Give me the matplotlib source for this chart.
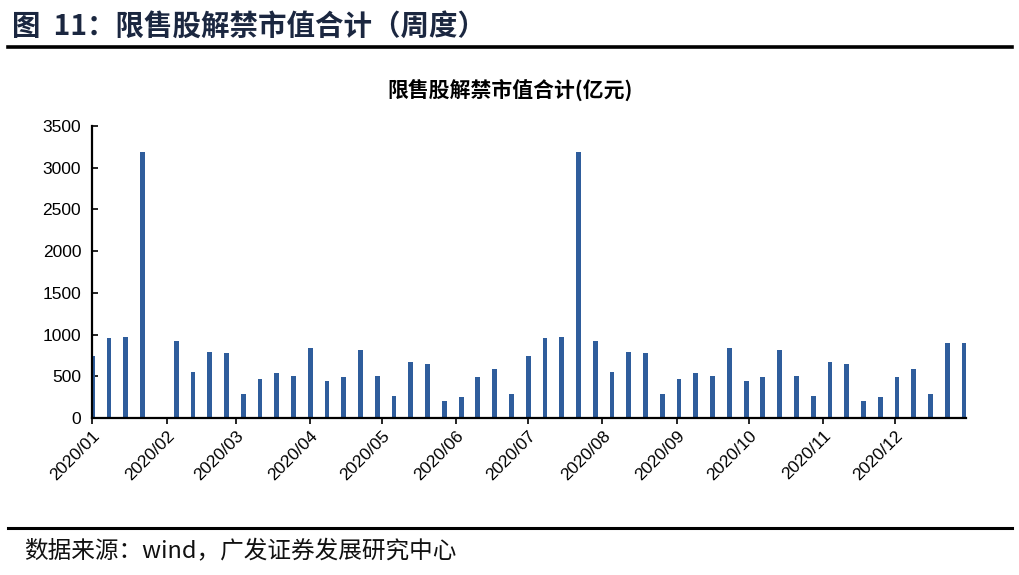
import numpy as np
import pandas as pd
import matplotlib
matplotlib.use("Agg")
import matplotlib.pyplot as plt
from matplotlib.lines import Line2D

plt.rcParams['font.family'] = ['Liberation Sans', 'Noto Sans CJK SC', 'DejaVu Sans']

# 周度数据 (亿元)
week_start = "2020-01-01"
n_weeks = 53
unlock_values = [
    740, 956, 976, 3188, 0, 928, 552, 796, 776, 288,
    464, 540, 504, 836, 444, 492, 816, 504, 260, 672,
    652, 200, 252, 492, 584, 288, 740, 956, 976, 3188,
    928, 552, 796, 776, 288, 464, 540, 504, 836, 444,
    492, 816, 504, 260, 672, 652, 200, 252, 492, 584,
    288, 896, 896,
]
month_ticks = pd.date_range("2020-01-01", "2020-12-01", freq="MS")
month_labels = [d.strftime("%Y/%m") for d in month_ticks]

header_text = "图  11：限售股解禁市值合计（周度）"
chart_title = "限售股解禁市值合计(亿元)"
source_text = "数据来源：wind，广发证券发展研究中心"

cjk = ['Noto Sans CJK SC', 'DejaVu Sans']
dates = pd.date_range(week_start, periods=n_weeks, freq="7D")

fig = plt.figure(figsize=(10.2, 5.75), dpi=100)
ax = fig.add_axes([0.0905, 0.273, 0.857, 0.508])

ax.bar(dates, unlock_values, width=2.0, color="#2F5D9C", zorder=2)

ax.set_ylim(0, 3500)
ax.set_yticks(np.arange(0, 3501, 500))
ax.set_xlim(pd.Timestamp("2020-01-01"), pd.Timestamp("2020-12-31"))
ax.set_xticks(month_ticks)
ax.set_xticklabels(month_labels, rotation=45, ha="right", rotation_mode="anchor")

for side in ["top", "right"]:
    ax.spines[side].set_visible(False)
for side in ["left", "bottom"]:
    ax.spines[side].set_linewidth(1.6)
    ax.spines[side].set_color("black")

ax.tick_params(axis="y", direction="in", length=4, width=1.2, labelsize=12.5, pad=8)
ax.tick_params(axis="x", direction="out", length=4, width=1.2, labelsize=12.5, pad=3)

# 图内标题 (居中于整张图)
fig.text(0.5, 0.843, chart_title, fontsize=15, fontweight="bold", family=cjk,
         ha="center", va="center")

# 顶部标题和横线
fig.text(0.012, 0.953, header_text, fontsize=20.5, fontweight="bold", color="#1B2740",
         family=cjk, va="center")
fig.add_artist(Line2D([0.008, 0.992], [0.918, 0.918], color="black", lw=2.6,
                      transform=fig.transFigure))

# 底部来源
fig.add_artist(Line2D([0.008, 0.992], [0.081, 0.081], color="black", lw=2.2,
                      transform=fig.transFigure))
fig.text(0.024, 0.041, source_text, fontsize=17, color="#111111",
         family=cjk, va="center")

fig.savefig("out.png", dpi=100)
